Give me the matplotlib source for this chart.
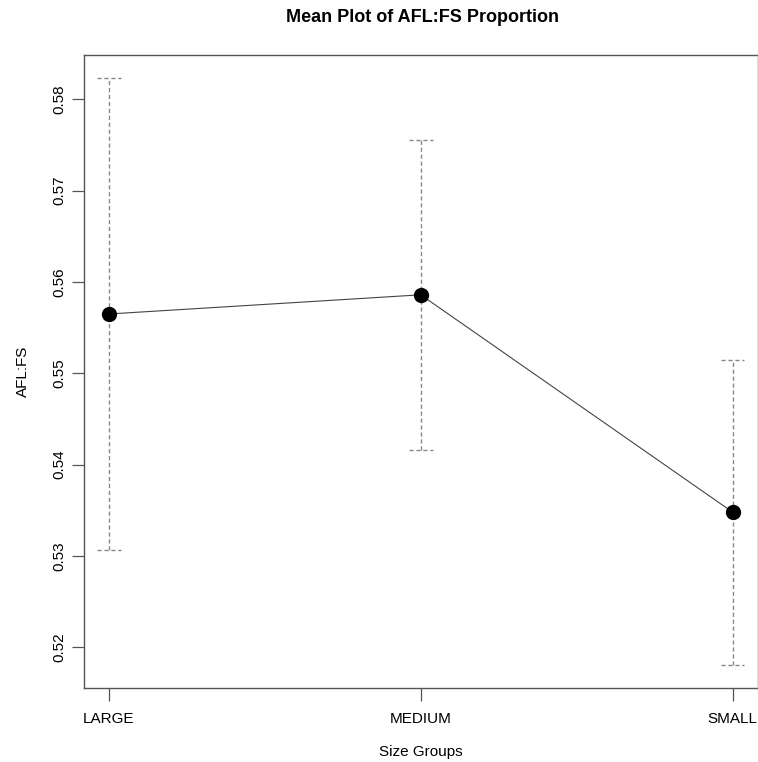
import numpy as np
import matplotlib
matplotlib.use('Agg')
import matplotlib.pyplot as plt

plt.rcParams['font.family'] = ['Liberation Sans', 'DejaVu Sans']

# Data
groups = ['LARGE', 'MEDIUM', 'SMALL']
means = [0.5565, 0.5586, 0.5348]
upper = [0.5823, 0.5756, 0.5515]
lower = [0.5307, 0.5416, 0.5181]
yticks = [0.52, 0.53, 0.54, 0.55, 0.56, 0.57, 0.58]

x = np.arange(1, len(groups) + 1)

fig = plt.figure(figsize=(7.58, 7.62), dpi=100)
ax = fig.add_axes([84 / 758, 74 / 762, 673.5 / 758, 633 / 762])

# error bars (dashed grey, with dashed caps)
cap = 0.038
ax.vlines(x, lower, upper, colors='#888888', linestyles=(0, (3, 2)), linewidth=1)
ax.hlines(upper, x - cap, x + cap, colors='#888888', linestyles=(0, (3, 2)), linewidth=1)
ax.hlines(lower, x - cap, x + cap, colors='#888888', linestyles=(0, (3, 2)), linewidth=1)

# connecting line and means
ax.plot(x, means, color='#444444', linewidth=0.8, zorder=3)
ax.plot(x, means, 'o', color='black', markersize=10, zorder=4)

# R-style 4% axis extension
xr = x.max() - x.min()
ax.set_xlim(x.min() - 0.04 * xr, x.max() + 0.04 * xr)
ylo, yhi = min(lower), max(upper)
ax.set_ylim(ylo - 0.04 * (yhi - ylo), yhi + 0.04 * (yhi - ylo))

ax.set_xticks(x)
ax.set_xticklabels(groups, fontsize=11)
ax.set_yticks(yticks)
ax.set_yticklabels([f'{t:.2f}' for t in yticks], fontsize=11, rotation=90, va='center')

ax.tick_params(axis='both', length=9, width=0.9, color='#555555')
ax.tick_params(axis='x', pad=8)
ax.tick_params(axis='y', pad=4)
for s in ax.spines.values():
    s.set_color('#555555')
    s.set_linewidth(1.0)

ax.set_xlabel('Size Groups', fontsize=11, labelpad=14)
ax.set_ylabel('AFL:FS', fontsize=11, labelpad=16)
fig.text(422 / 758, 1 - 17 / 762, 'Mean Plot of AFL:FS Proportion', fontsize=13,
         fontweight='bold', ha='center', va='center')

fig.savefig('out.png', dpi=100)
